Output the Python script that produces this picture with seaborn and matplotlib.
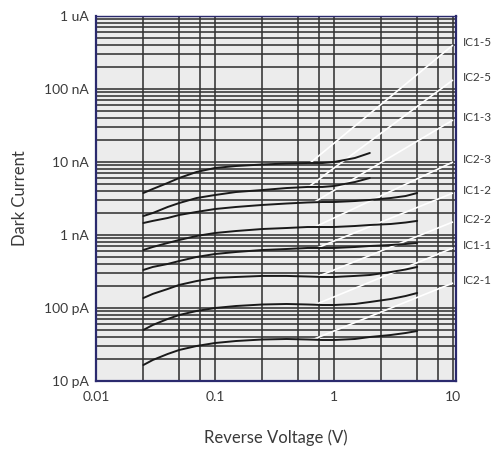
import numpy as np
import pandas as pd
import matplotlib
matplotlib.use("Agg")
import matplotlib.pyplot as plt
from matplotlib.ticker import FixedLocator, NullFormatter, LogLocator
import seaborn as sns

# ---------------- data (currents in nA) ----------------
series = ["IC1-5", "IC2-5", "IC1-3", "IC2-3", "IC1-2", "IC2-2", "IC1-1", "IC2-1"]
v_short = [0.025, 0.03, 0.04, 0.05, 0.07, 0.1, 0.15, 0.25, 0.4, 0.6, 0.8, 1.0, 1.5, 2.0]
v_long = [0.025, 0.03, 0.04, 0.05, 0.07, 0.1, 0.15, 0.25, 0.4, 0.6, 0.8, 1.0, 1.5, 2.0, 3.0, 4.0, 5.0]

ic1_5 = [3.76, 4.27, 5.16, 6.04, 7.30, 8.28, 8.81, 9.24, 9.54, 9.69, 9.69, 10.0, 11.35, 13.29]
ic2_5 = [1.82, 2.00, 2.42, 2.74, 3.21, 3.53, 3.88, 4.13, 4.40, 4.55, 4.55, 4.69, 5.32, 6.04]
ic1_3 = [1.46, 1.56, 1.71, 1.88, 2.07, 2.27, 2.42, 2.58, 2.70, 2.79, 2.83, 2.83, 2.92, 3.02,
         3.21, 3.42, 3.76]
ic2_3 = [0.623, 0.685, 0.777, 0.854, 0.969, 1.065, 1.134, 1.208, 1.247, 1.287, 1.287, 1.287,
         1.328, 1.371, 1.415, 1.483, 1.56]
ic1_2 = [0.332, 0.365, 0.401, 0.440, 0.500, 0.549, 0.585, 0.623, 0.643, 0.664, 0.664, 0.664,
         0.685, 0.707, 0.729, 0.753, 0.777]
ic2_2 = [0.137, 0.156, 0.182, 0.207, 0.234, 0.258, 0.266, 0.275, 0.275, 0.270, 0.266, 0.266,
         0.275, 0.283, 0.311, 0.337, 0.365]
ic1_1 = [0.0500, 0.0585, 0.0707, 0.0802, 0.0910, 0.100, 0.1065, 0.1117, 0.1135, 0.1117, 0.1099,
         0.1099, 0.1135, 0.1208, 0.1328, 0.1460, 0.1605]
ic2_1 = [0.01656, 0.0194, 0.02344, 0.0266, 0.03016, 0.03316, 0.0353, 0.03703, 0.03762, 0.03703,
         0.03644, 0.03644, 0.03762, 0.04006, 0.04267, 0.04545, 0.0484]

curves = [ic1_5, ic2_5, ic1_3, ic2_3, ic1_2, ic2_2, ic1_1, ic2_1]
volts = [v_short, v_short, v_long, v_long, v_long, v_long, v_long, v_long]

# label leader lines: start voltage on the curve, end current (nA) at 10 V
leader_start_v = [0.63, 0.61, 0.68, 0.69, 0.72, 0.72, 0.69, 0.66]
leader_end_v = 10.0
leader_end_na = [400.0, 133.0, 37.6, 10.0, 3.76, 1.51, 0.664, 0.22]

x_ticks = [0.01, 0.1, 1, 10]
x_ticklabels = ["0.01", "0.1", "1", "10"]
x_minor = [0.025, 0.05, 0.075, 0.25, 0.5, 0.75, 2.5, 5, 7.5]
y_ticks = [1e-11, 1e-10, 1e-9, 1e-8, 1e-7, 1e-6]
y_ticklabels = ["10 pA", "100 pA", "1 nA", "10 nA", "100 nA", "1 uA"]

NANO = 1e-9

# ---------------- build frame ----------------
rows = []
for name, vs, cs in zip(series, volts, curves):
    for v, c in zip(vs, cs):
        rows.append({"Series": name, "Voltage": v, "Current": c * NANO})
df = pd.DataFrame(rows)

# ---------------- style ----------------
sns.set_theme(style="white")
plt.rcParams["font.family"] = ["Lato", "DejaVu Sans"]
text_color = "#3a3a3a"
grid_color = "#333333"
spine_color = "#2b2a6e"

fig = plt.figure(figsize=(4.93, 4.49), dpi=100)
ax = fig.add_axes([96 / 493, 1 - 381 / 449, 360 / 493, 365 / 449])
ax.set_facecolor("#ececec")

sns.lineplot(data=df, x="Voltage", y="Current", units="Series", estimator=None,
             color="#1a1a1a", linewidth=1.4, ax=ax, zorder=4, legend=False)

ax.set_xscale("log")
ax.set_yscale("log")
ax.set_xlim(0.01, 10.6)
ax.set_ylim(1e-11, 1e-6)

# leader lines (white) and labels
for name, vs, cs, v0, i1 in zip(series, volts, curves, leader_start_v, leader_end_na):
    i0 = 10 ** np.interp(np.log10(v0), np.log10(vs), np.log10(cs))
    ax.plot([v0, leader_end_v], [i0 * NANO, i1 * NANO], color="white", linewidth=1.2,
            zorder=3, solid_capstyle="butt")
    ax.annotate(name, xy=(1.0, i1 * NANO), xycoords=("axes fraction", "data"),
                xytext=(5, 2), textcoords="offset points", ha="left", va="center",
                fontsize=8.5, color=text_color, annotation_clip=False)

# ticks and grid
ax.xaxis.set_major_locator(FixedLocator(x_ticks))
ax.set_xticklabels(x_ticklabels)
ax.xaxis.set_minor_locator(FixedLocator(x_minor))
ax.xaxis.set_minor_formatter(NullFormatter())
ax.yaxis.set_major_locator(FixedLocator(y_ticks))
ax.set_yticklabels(y_ticklabels)
ax.yaxis.set_minor_locator(LogLocator(base=10, subs=np.arange(2, 10)))
ax.yaxis.set_minor_formatter(NullFormatter())

ax.set_axisbelow(False)
ax.grid(True, which="both", color=grid_color, linewidth=1.15, zorder=2.5)
ax.tick_params(which="both", length=0, labelsize=10, colors=text_color)
ax.tick_params(axis="x", pad=7)
ax.tick_params(axis="y", pad=5)

for side in ["left", "right", "top", "bottom"]:
    ax.spines[side].set_color(spine_color)
    ax.spines[side].set_linewidth(1.6)
    ax.spines[side].set_zorder(5)
ax.spines["top"].set_linewidth(1.0)

ax.set_xlabel("Reverse Voltage (V)", fontsize=12, color=text_color, labelpad=19)
ax.set_ylabel("Dark Current", fontsize=12, color=text_color, labelpad=12)

fig.savefig("out.png", dpi=100, facecolor="white")
